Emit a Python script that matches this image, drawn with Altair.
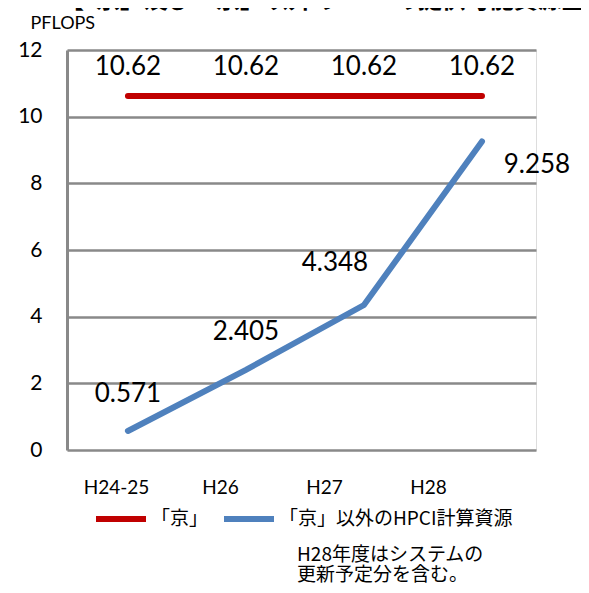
import altair as alt
import pandas as pd

categories = ["H24-25", "H26", "H27", "H28"]
kei_values = [10.62, 10.62, 10.62, 10.62]
other_values = [0.571, 2.405, 4.348, 9.258]
kei_labels = ["10.62", "10.62", "10.62", "10.62"]
other_labels = ["0.571", "2.405", "4.348", "9.258"]
series_names = ["「京」", "「京」以外のHPCI計算資源"]
series_colors = ["#C00000", "#4F81BD"]
y_ticks = [0, 2, 4, 6, 8, 10, 12]
title_text = "【「京」及び「京」以外のHPCIの提供可能資源量】"
unit_text = "PFLOPS"
note_lines = ["H28年度はシステムの", "更新予定分を含む。"]

rows = []
for c, v, l in zip(categories, kei_values, kei_labels):
    rows.append({"category": c, "series": series_names[0], "value": v, "label": l})
for c, v, l in zip(categories, other_values, other_labels):
    rows.append({"category": c, "series": series_names[1], "value": v, "label": l})
df = pd.DataFrame(rows)

LATIN = "Lato, 'Noto Sans CJK JP'"
CJK = "'Noto Sans CJK JP'"
GRID = "#898989"

x_enc = alt.X("category:N", sort=categories,
              scale=alt.Scale(type="point", domain=categories, padding=0.487, align=0.53),
              axis=None)
y_enc = alt.Y("value:Q", scale=alt.Scale(domain=[0, 12], nice=False),
              axis=alt.Axis(values=y_ticks, grid=True, gridColor=GRID, gridWidth=2.5,
                            domainColor=GRID, domainWidth=3, ticks=False,
                            labelFontSize=21, labelFont=LATIN, labelColor="black",
                            labelPadding=25, title=unit_text, titleAngle=0,
                            titleX=-37, titleY=-27, titleAlign="left",
                            titleBaseline="middle", titleFontWeight="normal",
                            titleFontSize=18, titleFont=LATIN, titleColor="black"))

base = alt.Chart(df)

lines = base.mark_line(strokeWidth=6, strokeCap="round", strokeJoin="miter").encode(
    x=x_enc, y=y_enc,
    color=alt.Color("series:N",
                    scale=alt.Scale(domain=series_names, range=series_colors),
                    legend=alt.Legend(title=None, orient="none", legendX=26, legendY=441,
                                      direction="horizontal", symbolType="stroke",
                                      symbolStrokeWidth=6, symbolSize=2500,
                                      labelFontSize=19, labelFont=CJK, labelColor="black",
                                      labelOffset=2, columnPadding=3, padding=0,
                                      labelLimit=400)),
)

def label_layer(series, cat=None, dx=0, dy=0):
    ch = base.mark_text(fontSize=26, font=LATIN, color="black", dx=dx, dy=dy,
                        baseline="middle", align="center")
    flt = alt.datum.series == series
    if cat is not None:
        flt = (alt.datum.series == series) & (alt.datum.category == cat)
    return ch.encode(x=x_enc, y=alt.Y("value:Q"), text="label:N").transform_filter(flt)

kei_lbl = label_layer(series_names[0], dy=-29)
o1 = label_layer(series_names[1], categories[0], dx=0, dy=-37)
o2 = label_layer(series_names[1], categories[1], dx=0, dy=-38)
o3 = label_layer(series_names[1], categories[2], dx=-29, dy=-42)
o4 = label_layer(series_names[1], categories[3], dx=55, dy=24)

data_layer = alt.layer(lines, kei_lbl, o1, o2, o3, o4)

axis_layer = alt.Chart(pd.DataFrame({"category": categories})).mark_point(opacity=0).encode(
    x=alt.X("category:N", sort=categories,
            scale=alt.Scale(type="point", domain=categories, padding=0.755, align=0.312),
            axis=alt.Axis(orient="bottom", domain=False, ticks=False, grid=False,
                          labelAngle=0, labelFontSize=19, labelFont=LATIN,
                          labelColor="black", labelPadding=28, title=None))
)

ann = pd.DataFrame({"dummy": [0]})
title_mark = alt.Chart(ann).mark_text(text=title_text, font=CJK, fontWeight="bold",
                                      fontSize=24, align="left", baseline="alphabetic",
                                      color="black").encode(
    x=alt.value(-7), y=alt.value(-42.5))
note_mark = alt.Chart(ann).mark_text(text=note_lines, font=CJK, fontSize=19, align="left",
                                     baseline="middle", lineHeight=20,
                                     color="black").encode(
    x=alt.value(230), y=alt.value(505))

chart = alt.layer(data_layer, axis_layer, title_mark, note_mark).resolve_scale(
    x="independent"
).properties(
    width=469, height=400,
    padding={"left": 59, "top": 42, "right": 45, "bottom": 135},
    autosize=alt.AutoSizeParams(type="none"),
).configure_view(stroke=None).configure(background="white")

chart.save("out.html", embed_options={"renderer": "svg", "actions": False})
